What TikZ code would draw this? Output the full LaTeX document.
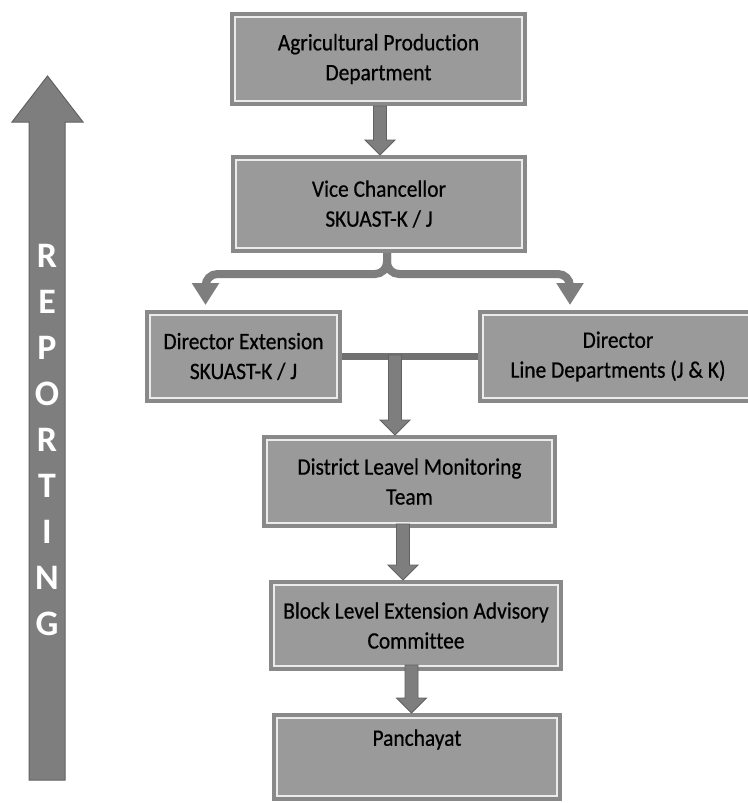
\documentclass[tikz,border=0pt]{standalone}
\usepackage{graphicx}
\usepackage{fontspec}
\setmainfont{Carlito}[Ligatures=NoCommon]
\newfontfamily\boxfont{Carlito}[Ligatures=NoCommon,FakeBold=0.6]
\usetikzlibrary{calc,arrows.meta}
\definecolor{boxfill}{HTML}{9A9A9A}
\definecolor{boxedge}{HTML}{898989}
\definecolor{boxline}{HTML}{EBEBEB}
\definecolor{arrfill}{HTML}{7E7E7E}
\definecolor{arredge}{HTML}{626262}
\newcommand\vs[1]{\scalebox{1}[1.1]{#1}}
\newcommand\blockarr[2]{%
  \filldraw[barrow] ($(#1)+(-6.5,0)$) -- ($(#2)+(-6.5,-15)$) -- ($(#2)+(-15,-15)$) -- (#2)
    -- ($(#2)+(15,-15)$) -- ($(#2)+(6.5,-15)$) -- ($(#1)+(6.5,0)$) -- cycle;}
\tikzset{
  box/.style={draw=boxedge, line width=4bp, fill=boxfill, inner sep=0pt, align=center,
    font=\boxfont\fontsize{21.5}{30}\selectfont, text=black,
    path picture={\draw[boxline, line width=2bp]
      ([xshift=3bp,yshift=-3bp]path picture bounding box.north west) rectangle
      ([xshift=-3bp,yshift=3bp]path picture bounding box.south east);}},
  barrow/.style={fill=arrfill, draw=arredge, line width=0.8bp, line join=miter},
  branch/.style={draw=arrfill, line width=8bp, rounded corners=12bp,
    -{Triangle[width=26bp,length=22bp]}},
  bar/.style={draw=arrfill!90!black, line width=7bp},
  rep/.style={text=white, font=\fontsize{36}{36}\bfseries\selectfont, anchor=base, inner sep=0pt}
}
\begin{document}
\begin{tikzpicture}[x=1bp,y=-1bp]
\useasboundingbox (0,0) rectangle (748,803);
\fill[white] (0,0) rectangle (748,803);
% reporting arrow
\filldraw[fill=arrfill, draw=arredge, line width=1bp, line join=miter]
  (29,780) -- (29,122) -- (12,122) -- (47.5,76) -- (83,122) -- (65,122) -- (65,780) -- cycle;
\foreach \ch [count=\i from 0] in {R,E,P,O,R,T,I,N,G}
  \node[rep] (rep\i) at (47, {267+46*\i}) {\ch};
% boxes
\node[box, minimum width=293bp, minimum height=90bp] (b1) at (378.5,59) {\vs{Agricultural Production}\\\vs{Department}};
\node[box, minimum width=292bp, minimum height=94bp] (b2) at (379,204) {\vs{Vice Chancellor}\\\vs{SKUAST-K / J}};
\node[box, minimum width=193bp, minimum height=89bp] (b3) at (243.5,356.5) {\vs{Director Extension}\\\vs{SKUAST-K / J}};
\node[box, minimum width=276bp, minimum height=89bp] (b4) at (618,356.5) {\vs{Director}\\\vs{Line Departments (J \& K)}};
\node[box, minimum width=291bp, minimum height=89bp] (b5) at (409.5,481.5) {\vs{District Leavel Monitoring}\\\vs{Team}};
\node[box, minimum width=290bp, minimum height=87bp] (b6) at (416,625.5) {\vs{Block Level Extension Advisory}\\\vs{Committee}};
\node[box, minimum width=286bp, minimum height=84bp] (b7) at (417,757) {\vs{Panchayat}\\\strut};
% box1 -> box2
\coordinate (s12) at ($(b1.south)+(1.5,0)$);
\blockarr{s12}{s12 |- b2.north}
% branch from box2
\coordinate (jn) at ($(b2.south)+(8,0)$);
\coordinate (tl) at ($(b3.north)+(-38,-5)$);
\coordinate (tr) at ($(b4.north)+(-48,-5)$);
\draw[branch] (jn) -- ++(0,21) -| (tl);
\draw[branch] (jn) -- ++(0,21) -| (tr);
% bar between director boxes
\draw[bar] (b3.east) -- (b4.west);
\coordinate (bj) at ($(b3.east -| b5.north)+(-14.5,-1.5)$);
\blockarr{bj}{bj |- b5.north}
% box5 -> box6
\coordinate (s56) at ($(b5.south)+(-6.5,-4)$);
\blockarr{s56}{s56 |- b6.north}
% box6 -> box7
\coordinate (s67) at ($(b6.south)+(-4.5,-6)$);
\blockarr{s67}{s67 |- b7.north}
\end{tikzpicture}
\end{document}
